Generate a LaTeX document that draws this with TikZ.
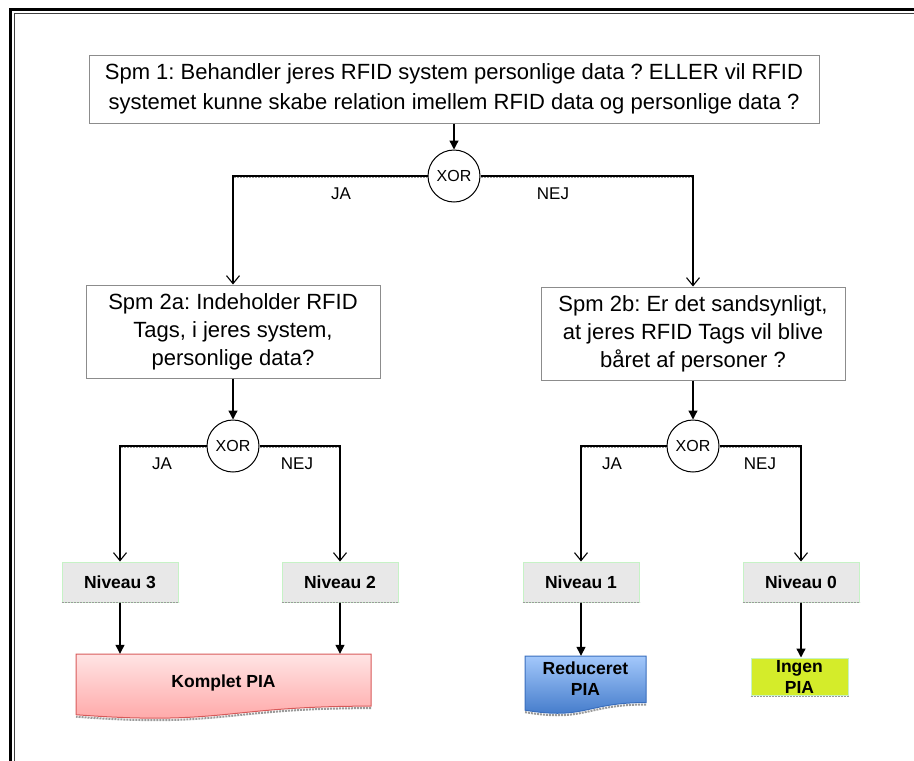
\documentclass[tikz,border=0pt]{standalone}
\usepackage{fontspec}
\setmainfont{Liberation Sans}
\frenchspacing
\usetikzlibrary{arrows.meta,calc}
\definecolor{qgray}{HTML}{8C8C8C}
\definecolor{lgreen}{HTML}{C6F2C6}
\definecolor{lgray}{HTML}{E8E8E8}
\definecolor{ygreen}{HTML}{D4EC2A}
\definecolor{pinkT}{HTML}{FFE4E4}
\definecolor{pinkB}{HTML}{FFA3A3}
\definecolor{pinkD}{HTML}{D85A5A}
\definecolor{blueT}{HTML}{A3C8FB}
\definecolor{blueB}{HTML}{3B74C6}
\definecolor{blueD}{HTML}{3A6EBD}
\definecolor{shgray}{HTML}{9A9A9A}
% document shape: x0, y0, width, height, style
\newcommand\pdocshape[5]{\path[#5] (#1,#2) -- ({#1+#3},#2) -- ({#1+#3},{#2+0.802*#4}) .. controls ({#1+0.5*#3},{#2+0.802*#4}) and ({#1+0.5*#3},{#2+1.107*#4}) .. (#1,{#2+0.934*#4}) -- cycle;}
\newcommand\pdocwave[5]{\path[#5] ({#1+#3},{#2+0.802*#4+2}) .. controls ({#1+0.5*#3},{#2+0.802*#4+2}) and ({#1+0.5*#3},{#2+1.107*#4+2}) .. (#1,{#2+0.934*#4+2});}
\begin{document}
\begin{tikzpicture}[x=1pt,y=-1pt,
  qbox/.style={draw=qgray,line width=1pt,fill=white,align=center,inner sep=0pt},
  xorc/.style={circle,draw,line width=1pt,fill=white,minimum size=52pt,inner sep=0pt,font=\fontsize{16}{19}\selectfont},
  lvl/.style={draw=lgreen,fill=lgray,line width=1pt,minimum width=116pt,minimum height=40pt,inner sep=0pt,font=\bfseries\fontsize{17.5}{21}\selectfont},
  lbl/.style={font=\fontsize{17}{20}\selectfont,inner sep=0pt},
  pia/.style={inner sep=0pt,align=center,font=\bfseries\fontsize{17.5}{21}\selectfont},
  conn/.style={line width=1.3pt},
  openarr/.style={conn,-{Straight Barb[length=8pt,width=13pt,line width=1.1pt]}},
  solidarr/.style={conn,-{Triangle[length=9pt,width=9pt]}},
  shadeline/.style={shgray,line width=1.6pt,dash pattern=on 2pt off 1pt},
]
\useasboundingbox (0,0) rectangle (914,761);
% frame
\draw[line width=3pt] (914,9) -- (10,9) -- (10,761);
\draw[line width=0.9pt,black!75] (914,13.5) -- (14.5,13.5) -- (14.5,761);

% result shapes
\pdocwave{76}{654}{295}{65}{draw=shgray,line width=2pt,dash pattern=on 2pt off 1pt}
\pdocshape{76}{654}{295}{65}{top color=pinkT,bottom color=pinkB,draw=pinkD,line width=1pt}
\pdocwave{525}{656}{121}{58}{draw=shgray,line width=2pt,dash pattern=on 2pt off 1pt}
\pdocshape{525}{656}{121}{58}{top color=blueT,bottom color=blueB,draw=blueD,line width=1pt}

% nodes
\node[qbox,font=\fontsize{22}{30}\selectfont,minimum width=730pt,minimum height=68pt] (q1) at (454,89)
  {Spm 1: Behandler jeres RFID system personlige data ? ELLER vil RFID\\systemet kunne skabe relation imellem RFID data og personlige data ?};
\node[xorc] (x1) at (454,176) {XOR};
\node[qbox,font=\fontsize{22}{28}\selectfont,minimum width=294pt,minimum height=93pt] (q2a) at (233,331.5)
  {Spm 2a: Indeholder RFID\\Tags, i jeres system,\\personlige data?};
\node[qbox,font=\fontsize{22}{28}\selectfont,minimum width=304pt,minimum height=93pt] (q2b) at (693,333.5)
  {Spm 2b: Er det sandsynligt,\\at jeres RFID Tags vil blive\\båret af personer ?};
\node[xorc] (x2a) at (233,446) {XOR};
\node[xorc] (x2b) at (693,446) {XOR};
\node[lvl] (n3) at (120,582) {Niveau 3};
\node[lvl] (n2) at (340,582) {Niveau 2};
\node[lvl] (n1) at (581,582) {Niveau 1};
\node[lvl] (n0) at (801,582) {Niveau 0};
\node[pia,minimum width=295pt,minimum height=58pt] (kpia) at (223.5,683) {Komplet PIA};
\node[pia,minimum width=121pt,minimum height=46pt] (rpia) at (585.5,679) {Reduceret\\PIA};
\node[pia,draw=lgreen,fill=ygreen,line width=1pt,minimum width=97pt,minimum height=37pt] (ipia) at (799.5,676.5) {Ingen\\PIA};
\draw[shadeline] ([yshift=-1pt]ipia.south west) -- ([yshift=-1pt]ipia.south east);
\foreach \n in {n3,n2,n1,n0}{\draw[shadeline] (\n.south west) -- (\n.south east);}

% labels
\node[lbl] (ja1) at (341,194) {JA};
\node[lbl] (nej1) at (553,194) {NEJ};
\node[lbl] (ja2a) at (162,464) {JA};
\node[lbl] (nej2a) at (297,464) {NEJ};
\node[lbl] (ja2b) at (612,464) {JA};
\node[lbl] (nej2b) at (760,464) {NEJ};

% shades under horizontal connectors
\draw[shadeline] ([yshift=-1.5pt]x1.west) -- ([yshift=-1.5pt]x1.west -| q2a.north);
\draw[shadeline] ([yshift=-1.5pt]x1.east) -- ([yshift=-1.5pt]x1.east -| q2b.north);
\draw[shadeline] ([yshift=-1.5pt]x2a.west) -- ([yshift=-1.5pt]x2a.west -| n3.north);
\draw[shadeline] ([yshift=-1.5pt]x2a.east) -- ([yshift=-1.5pt]x2a.east -| n2.north);
\draw[shadeline] ([yshift=-1.5pt]x2b.west) -- ([yshift=-1.5pt]x2b.west -| n1.north);
\draw[shadeline] ([yshift=-1.5pt]x2b.east) -- ([yshift=-1.5pt]x2b.east -| n0.north);

% connectors
\draw[solidarr] (q1.south) -- (x1.north);
\draw[openarr] (x1.west) -| (q2a.north);
\draw[openarr] (x1.east) -| (q2b.north);
\draw[solidarr] (q2a.south) -- (x2a.north);
\draw[solidarr] (q2b.south) -- (x2b.north);
\draw[openarr] (x2a.west) -| (n3.north);
\draw[openarr] (x2a.east) -| (n2.north);
\draw[openarr] (x2b.west) -| (n1.north);
\draw[openarr] (x2b.east) -| (n0.north);
\draw[solidarr] (n3.south) -- (n3.south |- kpia.north);
\draw[solidarr] (n2.south) -- (n2.south |- kpia.north);
\draw[solidarr] (n1.south) -- (n1.south |- rpia.north);
\draw[solidarr] (n0.south) -- (n0.south |- ipia.north);
\end{tikzpicture}
\end{document}
